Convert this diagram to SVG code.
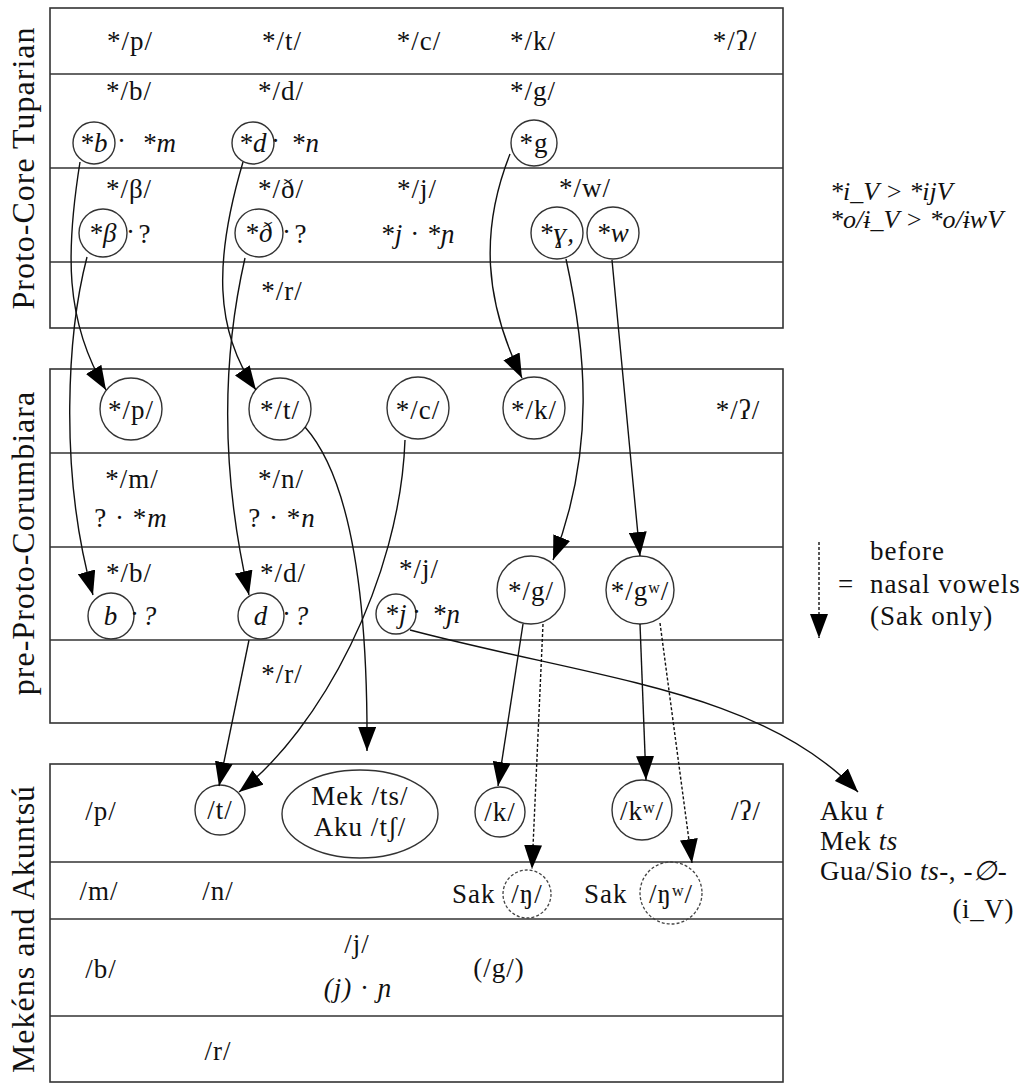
<svg xmlns="http://www.w3.org/2000/svg" width="1022" height="1084" viewBox="0 0 1022 1084">
<style>
text{font-family:"Liberation Serif","DejaVu Serif",serif;font-size:27px;fill:#111;letter-spacing:1px}
.m{text-anchor:middle}
.e{text-anchor:end}
.i{font-style:italic}
.lbl{font-size:32px;text-anchor:middle}
.sm{font-size:26px;letter-spacing:0}
.nt{font-size:27px;letter-spacing:0.6px}
.grid{fill:none;stroke:#333;stroke-width:1.6}
.node{fill:none;stroke:#333;stroke-width:1.4}
.dnode{fill:none;stroke:#444;stroke-width:1.3;stroke-dasharray:3 2}
.con{fill:none;stroke:#111;stroke-width:1.4}
.dash{stroke-dasharray:3 2}
</style>
<defs>
<marker id="ah" viewBox="0 0 24 18" refX="24" refY="9" markerWidth="24" markerHeight="18" markerUnits="userSpaceOnUse" orient="auto">
<path d="M0,0 L24,9 L0,18 Z" fill="#000" stroke="none"/>
</marker>
</defs>

<!-- row labels -->
<text class="lbl" transform="translate(34,168) rotate(-90)">Proto-Core Tuparian</text>
<text class="lbl" transform="translate(34,543) rotate(-90)">pre-Proto-Corumbiara</text>
<text class="lbl" transform="translate(34,929) rotate(-90)">Mekéns and Akuntsú</text>

<!-- tables -->
<g id="table1" class="grid">
<rect x="50" y="8" width="733" height="320"/>
<line x1="50" y1="74" x2="783" y2="74"/>
<line x1="50" y1="168" x2="783" y2="168"/>
<line x1="50" y1="262" x2="783" y2="262"/>
</g>
<g id="table2" class="grid">
<rect x="50" y="369" width="733" height="354"/>
<line x1="50" y1="453" x2="783" y2="453"/>
<line x1="50" y1="547" x2="783" y2="547"/>
<line x1="50" y1="640" x2="783" y2="640"/>
</g>
<g id="table3" class="grid">
<rect x="50" y="764" width="733" height="318"/>
<line x1="50" y1="862" x2="783" y2="862"/>
<line x1="50" y1="919" x2="783" y2="919"/>
<line x1="50" y1="1016" x2="783" y2="1016"/>
</g>

<!-- Table 1 nodes -->
<g id="t1-p"><text class="m" x="130" y="50">*/p/</text></g>
<g id="t1-t"><text class="m" x="282" y="50">*/t/</text></g>
<g id="t1-c"><text class="m" x="419" y="50">*/c/</text></g>
<g id="t1-k"><text class="m" x="533" y="50">*/k/</text></g>
<g id="t1-q"><text class="m" x="735" y="50">*/ʔ/</text></g>
<g id="t1-b"><text class="m" x="129" y="100">*/b/</text></g>
<g id="t1-d"><text class="m" x="281" y="100">*/d/</text></g>
<g id="t1-g"><text class="m" x="533" y="100">*/g/</text></g>
<g id="t1-bc"><circle class="node" cx="94" cy="143" r="21"/><text class="m i" x="94" y="152">*b</text></g>
<g id="t1-m"><text class="m" x="122" y="150">·</text><text class="i" x="142" y="152">*m</text></g>
<g id="t1-dc"><circle class="node" cx="253" cy="143" r="21"/><text class="m i" x="253" y="152">*d</text></g>
<g id="t1-n"><text class="m" x="276" y="150">·</text><text class="i" x="291" y="152">*n</text></g>
<g id="t1-gc"><circle class="node" cx="534" cy="143" r="23"/><text class="m" x="534" y="152">*g</text></g>
<g id="t1-beta"><text class="m" x="129" y="198">*/β/</text></g>
<g id="t1-eth"><text class="m" x="281" y="198">*/ð/</text></g>
<g id="t1-j"><text class="m" x="417" y="198">*/j/</text></g>
<g id="t1-w"><text class="m" x="585" y="197">*/w/</text></g>
<g id="t1-betac"><circle class="node" cx="103" cy="233" r="24"/><text class="m i" x="103" y="242">*β</text></g>
<g id="t1-q1"><text class="m" x="131" y="241">·</text><text class="m" x="145" y="243">?</text></g>
<g id="t1-ethc"><circle class="node" cx="259" cy="233" r="24"/><text class="m i" x="259" y="242">*ð</text></g>
<g id="t1-q2"><text class="m" x="287" y="241">·</text><text class="m" x="301" y="243">?</text></g>
<g id="t1-jn"><text class="m i" x="418" y="243">*j · *ɲ</text></g>
<g id="t1-gam"><circle class="node" cx="557" cy="233" r="26"/><text class="m i" x="557" y="242">*ɣ,</text></g>
<g id="t1-wc"><circle class="node" cx="613" cy="233" r="26"/><text class="m i" x="613" y="242">*w</text></g>
<g id="t1-r"><text class="m" x="282" y="300">*/r/</text></g>

<!-- right notes -->
<g id="note1"><text class="i sm" x="830" y="200">*i_V &gt; *ijV</text><text class="i sm" x="830" y="228">*o/ɨ_V &gt; *o/ɨwV</text></g>

<!-- Table 2 nodes -->
<g id="t2-p"><circle class="node" cx="131" cy="409" r="31"/><text class="m" x="131" y="419">*/p/</text></g>
<g id="t2-t"><circle class="node" cx="280" cy="409" r="31"/><text class="m" x="280" y="419">*/t/</text></g>
<g id="t2-c"><circle class="node" cx="418" cy="408" r="31"/><text class="m" x="418" y="419">*/c/</text></g>
<g id="t2-k"><circle class="node" cx="534" cy="408" r="31"/><text class="m" x="534" y="419">*/k/</text></g>
<g id="t2-q"><text class="m" x="738" y="419">*/ʔ/</text></g>
<g id="t2-m"><text class="m" x="132" y="488">*/m/</text><text class="m" x="131" y="527">? · *<tspan class="i">m</tspan></text></g>
<g id="t2-n"><text class="m" x="281" y="488">*/n/</text><text class="m" x="282" y="527">? · *<tspan class="i">n</tspan></text></g>
<g id="t2-b"><text class="m" x="129" y="582">*/b/</text></g>
<g id="t2-bc"><circle class="node" cx="111" cy="616" r="23"/><text class="m i" x="111" y="625">b</text></g>
<g id="t2-bq"><text class="m" x="135" y="623">·</text><text class="m i" x="150" y="625">?</text></g>
<g id="t2-d"><text class="m" x="283" y="582">*/d/</text></g>
<g id="t2-dc"><circle class="node" cx="261" cy="616" r="23"/><text class="m i" x="261" y="625">d</text></g>
<g id="t2-dq"><text class="m" x="287" y="623">·</text><text class="m i" x="302" y="625">?</text></g>
<g id="t2-j"><text class="m" x="419" y="578">*/j/</text></g>
<g id="t2-jc"><circle class="node" cx="396" cy="614" r="20"/><text class="m i" x="396" y="623">*j</text></g>
<g id="t2-jn"><text class="m" x="417" y="621">·</text><text class="i" x="432" y="623">*ɲ</text></g>
<g id="t2-g"><circle class="node" cx="531" cy="590" r="34"/><text class="m" x="531" y="600">*/g/</text></g>
<g id="t2-gw"><circle class="node" cx="640" cy="590" r="34"/><text class="m" x="640" y="600">*/gʷ/</text></g>
<g id="t2-r"><text class="m" x="282" y="683">*/r/</text></g>

<!-- legend -->
<g id="legend">
<line class="con dash" x1="819" y1="542" x2="819" y2="638" marker-end="url(#ah)"/>
<text class="m" x="846" y="593">=</text>
<text x="870" y="560">before</text>
<text x="870" y="593">nasal vowels</text>
<text x="870" y="625">(Sak only)</text>
</g>

<!-- Table 3 nodes -->
<g id="t3-p"><text class="m" x="101" y="820">/p/</text></g>
<g id="t3-t"><circle class="node" cx="220" cy="810" r="25"/><text class="m" x="220" y="819">/t/</text></g>
<g id="t3-ts"><ellipse class="node" cx="360" cy="814" rx="78" ry="44"/><text class="m" x="360" y="805">Mek /ts/</text><text class="m" x="360" y="836">Aku /tʃ/</text></g>
<g id="t3-k"><circle class="node" cx="500" cy="812" r="25"/><text class="m" x="500" y="821">/k/</text></g>
<g id="t3-kw"><circle class="node" cx="642" cy="810" r="30"/><text class="m" x="642" y="820">/kʷ/</text></g>
<g id="t3-q"><text class="m" x="746" y="820">/ʔ/</text></g>
<g id="t3-m"><text class="m" x="99" y="900">/m/</text></g>
<g id="t3-n"><text class="m" x="218" y="900">/n/</text></g>
<g id="t3-ng"><text x="452" y="903">Sak</text><circle class="dnode" cx="527" cy="894" r="24"/><text class="m" x="527" y="903">/ŋ/</text></g>
<g id="t3-ngw"><text x="584" y="903">Sak</text><circle class="dnode" cx="671" cy="893" r="31"/><text class="m" x="671" y="903">/ŋʷ/</text></g>
<g id="t3-b"><text class="m" x="101" y="978">/b/</text></g>
<g id="t3-j"><text class="m" x="357" y="953">/j/</text><text class="m" x="358" y="997"><tspan class="i">(j)</tspan> · <tspan class="i">ɲ</tspan></text></g>
<g id="t3-g"><text class="m" x="499" y="977">(/g/)</text></g>
<g id="t3-r"><text class="m" x="218" y="1060">/r/</text></g>

<!-- right note 2 -->
<g id="note2">
<text class="nt" x="820" y="820">Aku <tspan class="i">t</tspan></text>
<text class="nt" x="820" y="850">Mek <tspan class="i">ts</tspan></text>
<text class="nt" x="820" y="880">Gua/Sio <tspan class="i">ts</tspan>-, -<tspan class="i">∅</tspan>-</text>
<text class="nt e" x="1014" y="918">(i_V)</text>
</g>

<!-- connectors -->
<g id="connectors" class="con">
<path d="M80,162 C66,250 64,320 106,390" marker-end="url(#ah)"/>
<path d="M87,257 C68,330 58,470 93,595" marker-end="url(#ah)"/>
<path d="M243,162 C214,260 214,330 256,390" marker-end="url(#ah)"/>
<path d="M245,258 C224,350 218,460 249,595" marker-end="url(#ah)"/>
<path d="M510,154 C480,230 484,300 522,378" marker-end="url(#ah)"/>
<path d="M566,259 C586,350 596,450 553,560" marker-end="url(#ah)"/>
<path d="M612,260 C618,330 630,450 640,556" marker-end="url(#ah)"/>
<path d="M305,427 C352,480 368,600 367,751" marker-end="url(#ah)"/>
<path d="M405,440 C400,580 320,730 239,792" marker-end="url(#ah)"/>
<path d="M249,640 L219,786" marker-end="url(#ah)"/>
<path d="M523,624 L498,786" marker-end="url(#ah)"/>
<path class="dash" d="M543,624 L532,869" marker-end="url(#ah)"/>
<path d="M640,624 L646,780" marker-end="url(#ah)"/>
<path class="dash" d="M660,623 L692,863" marker-end="url(#ah)"/>
<path d="M410,630 C600,680 760,690 858,792" marker-end="url(#ah)"/>
</g>
</svg>
